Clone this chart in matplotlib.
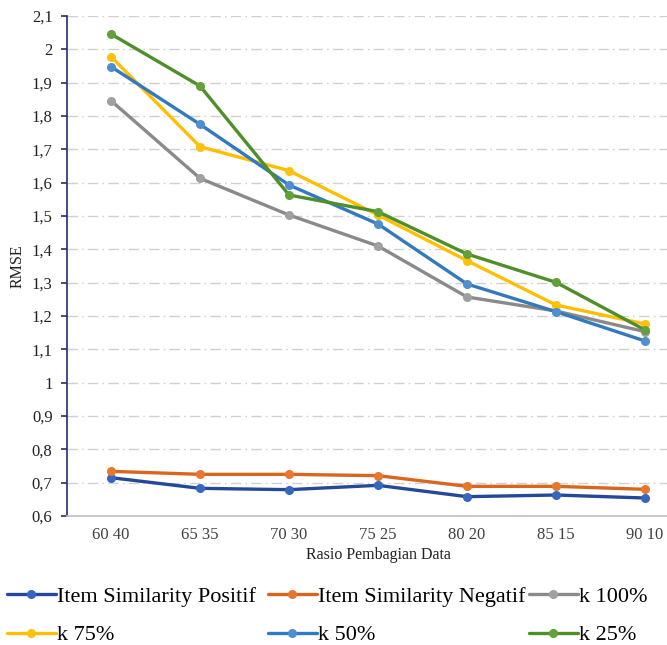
"""RMSE per rasio pembagian data untuk tiap metode."""

import matplotlib
matplotlib.use("Agg")
import matplotlib.pyplot as plt

plt.rcParams["font.family"] = ["Liberation Serif", "DejaVu Serif"]

# data
ratios = ["60 40", "65 35", "70 30", "75 25", "80 20", "85 15", "90 10"]
positif = [0.715, 0.683, 0.679, 0.692, 0.658, 0.663, 0.654]
negatif = [0.734, 0.725, 0.725, 0.721, 0.689, 0.689, 0.680]
k100 = [1.846, 1.613, 1.503, 1.410, 1.257, 1.215, 1.153]
k75 = [1.978, 1.708, 1.636, 1.503, 1.366, 1.233, 1.176]
k50 = [1.948, 1.775, 1.593, 1.476, 1.296, 1.213, 1.125]
k25 = [2.046, 1.890, 1.563, 1.513, 1.386, 1.301, 1.158]
labels = ["Item Similarity Positif", "Item Similarity Negatif", "k 100%",
          "k 75%", "k 50%", "k 25%"]
y_ticks = [0.6, 0.7, 0.8, 0.9, 1.0, 1.1, 1.2, 1.3, 1.4, 1.5, 1.6, 1.7, 1.8,
           1.9, 2.0, 2.1]

# warna garis / marker
STYLES = [
    ("#24489A", "#3566C0"),
    ("#D9661F", "#E8772E"),
    ("#8A8A8A", "#A0A0A0"),
    ("#FFBF00", "#FFC20A"),
    ("#3279BD", "#4D8FD0"),
    ("#4E8F2A", "#62A03A"),
]

W, H = 667, 645
fig = plt.figure(figsize=(W / 100, H / 100), dpi=100)
ax = fig.add_axes([66.5 / W, 129 / H, 623 / W, 500 / H])

x = list(range(len(ratios)))
handles = []
for series, lab, (lc, mc) in zip([positif, negatif, k100, k75, k50, k25], labels, STYLES):
    h, = ax.plot(x, series, color=lc, lw=2.4, marker="o", ms=5.5,
                 mfc=mc, mec=mc, label=lab, solid_capstyle="round")
    handles.append(h)

ax.set_xlim(-0.5, 6.5)
ax.set_ylim(0.6, 2.1)
ax.set_xticks(x)
ax.set_xticklabels(ratios, fontsize=12)
ax.set_yticks(y_ticks)
ax.set_yticklabels([f"{v:g}".replace(".", ",") for v in y_ticks], fontsize=12)
ax.tick_params(axis="x", length=0, pad=8, colors="#404040")
ax.tick_params(axis="y", length=4, width=1.2, pad=6, color="#2B2B6B", labelcolor="#222222")

ax.grid(axis="y", color="#D0D0D0", lw=1, ls=(0, (7.5, 3, 1.2, 3)))
ax.set_axisbelow(True)
for side in ["top", "right"]:
    ax.spines[side].set_visible(False)
ax.spines["left"].set_color("#2B2B6B")
ax.spines["left"].set_linewidth(1.2)
ax.spines["bottom"].set_color("#BFBFBF")
ax.spines["bottom"].set_linewidth(1.2)

ax.set_ylabel("RMSE", fontsize=11.5, color="#222222")
ax.yaxis.set_label_coords(-0.066, 0.5)
ax.set_xlabel("Rasio Pembagian Data", fontsize=11.5, color="#222222")
ax.xaxis.set_label_coords(0.5, -0.062)

# legenda: tiga kolom dengan lebar sama, diisi per baris
col_x = [7, 268, 529]
for i, cx in enumerate(col_x):
    fig.legend([handles[i], handles[i + 3]], [labels[i], labels[i + 3]],
               loc="upper left", bbox_to_anchor=(cx / W, 1 - 586 / H),
               frameon=False, fontsize=16, handlelength=2.2, handletextpad=0.05,
               borderpad=0, borderaxespad=0, labelspacing=0.82)

fig.savefig("out.png", dpi=100)
